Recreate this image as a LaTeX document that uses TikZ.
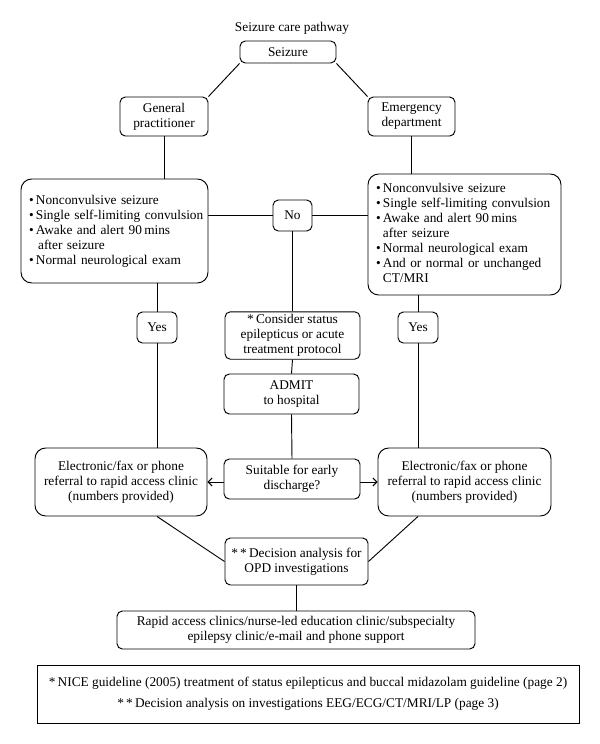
\documentclass[tikz,border=0pt]{standalone}
\usepackage{fontspec}
\setmainfont{Liberation Serif}
\usetikzlibrary{arrows.meta}
\tikzset{
	box/.style={draw, rounded corners=4pt, align=center, inner sep=2pt, font=\fontsize{10}{11.25}\selectfont},
	listbox/.style={box, rounded corners=8pt, align=left, inner xsep=6pt},
	yesno/.style={box, minimum width=30pt, minimum height=23.25pt}
}
\newcommand{\bl}{\textbullet}
\begin{document}
\begin{tikzpicture}[x=0.75pt,y=-0.75pt,line width=0.7pt,>={Straight Barb[length=3pt,width=6pt]}]
	\useasboundingbox (0,0) rectangle (600,744);
	% top part
	\node[font=\fontsize{10}{11.25}\selectfont] (title) at (292,28) {Seizure care pathway};
	\node[box,minimum width=72pt,minimum height=16.5pt] (seizure) at (288,52) {Seizure};
	\node[box,minimum width=66pt,minimum height=29.25pt] (gp) at (164,116.5) {General\\practitioner};
	\node[box,minimum width=65.25pt,minimum height=29.25pt] (ed) at (411.5,116.5) {Emergency\\department};
	\node[listbox,text width=128.25pt,minimum height=78pt] (leftlist) at (114.5,231) {%
		\begin{tabular}{@{}l@{\,}l@{}}
		\bl & Nonconvulsive seizure\\
		\bl & Single self-limiting convulsion\\
		\bl & Awake and alert 90\,mins\\
		    & \,after seizure\\
		\bl & Normal neurological exam
		\end{tabular}};
	\node[yesno,minimum width=29.25pt] (no) at (292.5,215.5) {No};
	\node[listbox,text width=132.75pt,minimum height=90.75pt] (rightlist) at (464.5,234.5) {%
		\begin{tabular}{@{}l@{\,}l@{}}
		\bl & Nonconvulsive seizure\\
		\bl & Single self-limiting convulsion\\
		\bl & Awake and alert 90\,mins\\
		    & after seizure\\
		\bl & Normal neurological exam\\
		\bl & And or normal or unchanged\\
		    & CT/MRI
		\end{tabular}};
	% middle part
	\node[yesno] (yesl) at (157,327.5) {Yes};
	\node[yesno] (yesr) at (418,327.5) {Yes};
	\node[box,minimum width=101.25pt,minimum height=35.25pt] (consider) at (292.5,335.5) {*\,Consider status\\epilepticus or acute\\treatment protocol};
	\node[box,minimum width=101.25pt,minimum height=30pt] (admit) at (291.5,394) {ADMIT\\to hospital};
	\node[box,minimum width=102pt,minimum height=30pt] (suitable) at (292,479) {Suitable for early\\discharge?};
	\node[box,rounded corners=8pt,minimum width=129pt,minimum height=51pt] (refl) at (121,482) {Electronic/fax or phone\\referral to rapid access clinic\\(numbers provided)};
	\node[box,rounded corners=8pt,minimum width=129.75pt,minimum height=51pt] (refr) at (464.5,482) {Electronic/fax or phone\\referral to rapid access clinic\\(numbers provided)};
	% bottom part
	\node[box,minimum width=107.25pt,minimum height=35.25pt] (decision) at (296.5,561.5) {*\,*\,Decision analysis for\\OPD investigations};
	\node[box,minimum width=268.5pt,minimum height=28.5pt] (rapid) at (296,630) {Rapid access clinics/nurse-led education clinic/subspecialty\\epilepsy clinic/e-mail and phone support};
	\node[box,rounded corners=0pt,minimum width=406.5pt,minimum height=43.5pt] (notes) at (308,694) {*\,NICE guideline (2005) treatment of status epilepticus and buccal midazolam guideline (page 2)\\[4.5pt]*\,*\,Decision analysis on investigations EEG/ECG/CT/MRI/LP (page 3)};
	% connectors
	\draw (seizure.south west)--(gp.north east);
	\draw (seizure.south east)--(ed.north west);
	\draw (gp.south)--(gp.south |- leftlist.north);
	\draw (ed.south)--(ed.south |- rightlist.north);
	\draw (no.west)--(no.west -| leftlist.east);
	\draw (no.east)--(no.east -| rightlist.west);
	\draw (no.south)--(consider.north);
	\draw (yesl.north)--(yesl.north |- leftlist.south);
	\draw (yesl.south)--(yesl.south |- refl.north);
	\draw (yesr.north)--(yesr.north |- rightlist.south);
	\draw (yesr.south)--(yesr.south |- refr.north);
	\draw (consider.south)--(admit.north);
	\draw (admit.south)--(suitable.north);
	\draw[->] (suitable.west |- refl.east)--(refl.east);
	\draw[->] (suitable.east |- refr.west)--(refr.west);
	\draw (yesl.south |- refl.south)--(decision.west);
	\draw (yesr.south |- refr.south)--(decision.east);
	\draw (decision.south)--(decision.south |- rapid.north);
\end{tikzpicture}
\end{document}
